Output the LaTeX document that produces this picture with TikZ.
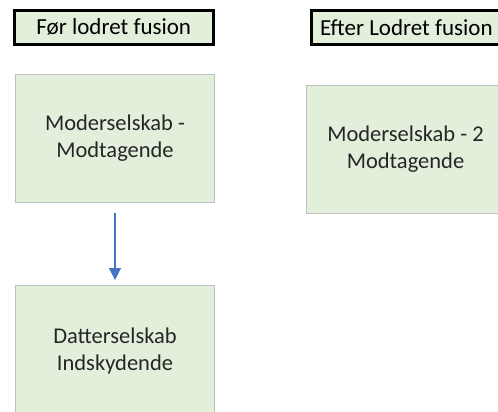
\documentclass[tikz,border=0pt]{standalone}
\usepackage{fontspec}
\setmainfont{Carlito}
\usetikzlibrary{arrows.meta}
\definecolor{boxfill}{HTML}{E2EFDA}
\definecolor{boxline}{HTML}{BFBFBF}
\definecolor{arrowblue}{HTML}{4472C4}
\definecolor{txt}{HTML}{262626}
\tikzset{
  hdr/.style={draw=black, line width=2.6pt, fill=boxfill, inner sep=0pt, anchor=north west},
  ent/.style={draw=boxline, line width=1pt, fill=boxfill, inner sep=0pt, anchor=north west,
    minimum width=199pt, minimum height=128pt, align=center, text=txt,
    font=\fontsize{22.5}{27}\selectfont},
  link/.style={draw=arrowblue, line width=1.1pt, -{Triangle[length=12pt,width=12pt]}},
}
\begin{document}
\begin{tikzpicture}[x=1pt,y=-1pt]
\useasboundingbox (0,0) rectangle (498,412);
\clip (0,0) rectangle (498,412);
\fill[white] (0,0) rectangle (498,412);
\node[hdr, minimum width=199pt, minimum height=34pt] (h1) at (13,9) {};
\node[font=\fontsize{23}{27}\selectfont] (h1t) at (h1.center) {Før lodret fusion};
\node[hdr, minimum width=196pt, minimum height=34pt] (h2) at (310,9) {};
\node[font=\fontsize{23}{27}\selectfont, anchor=west, inner sep=0pt] (h2t) at ([xshift=10pt]h2.west) {Efter Lodret fusion};
\node[ent] (m1) at (15,74) {Moderselskab -\\Modtagende};
\node[ent, minimum width=198pt] (m2) at (306,85) {Moderselskab - 2\\Modtagende};
\node[ent, minimum height=130pt] (d1) at (15,285) {Datterselskab\\Indskydende};
\draw[link, shorten <=10pt, shorten >=5pt] (m1.south) -- (d1.north);
\end{tikzpicture}
\end{document}
